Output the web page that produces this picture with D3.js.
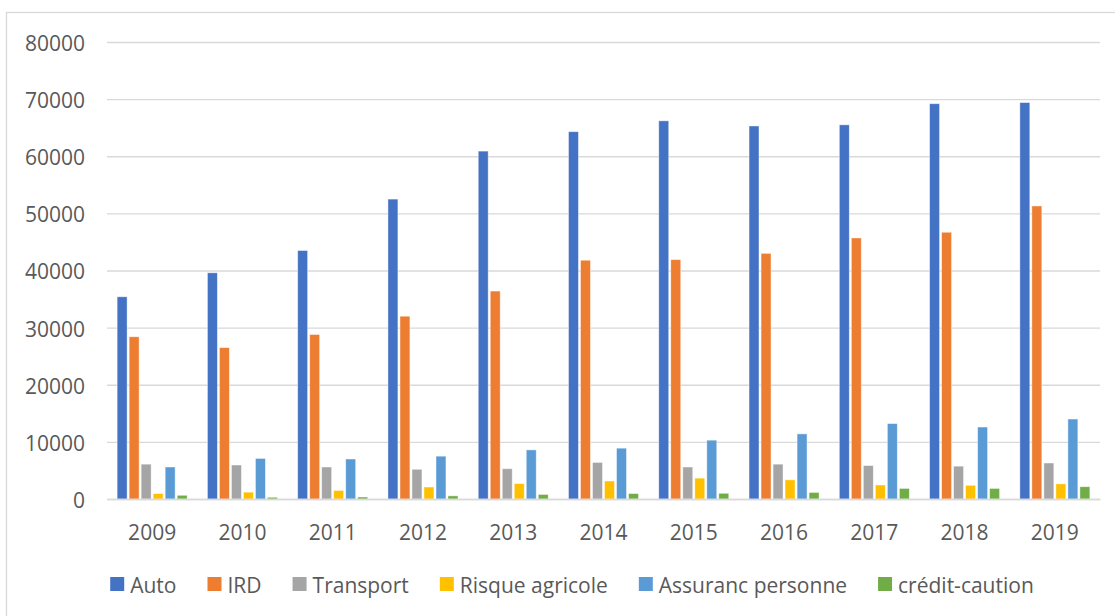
<!DOCTYPE html>
<html>
<head>
<meta charset="utf-8">
<script src="https://cdn.jsdelivr.net/npm/d3@7"></script>
<style>
  html, body { margin: 0; padding: 0; background: #fff; }
  svg { display: block; font-family: "Open Sans", "Noto Sans", sans-serif; }
</style>
</head>
<body>
<svg id="chart" width="1115" height="616"></svg>
<script>
// Years on the category axis
const years = ["2009", "2010", "2011", "2012", "2013", "2014", "2015", "2016", "2017", "2018", "2019"];

// Premiums by line of business
const auto        = [35400, 39600, 43500, 52500, 60900, 64300, 66200, 65300, 65500, 69200, 69400];
const ird         = [28400, 26500, 28800, 32000, 36400, 41800, 41900, 43000, 45700, 46700, 51300];
const transport   = [6100, 5950, 5600, 5200, 5300, 6400, 5600, 6100, 5850, 5750, 6300];
const agricole    = [950, 1200, 1500, 2100, 2700, 3150, 3650, 3350, 2450, 2400, 2650];
const personne    = [5600, 7100, 7000, 7500, 8600, 8900, 10300, 11400, 13200, 12600, 14000];
const caution     = [650, 300, 350, 550, 800, 950, 1000, 1150, 1850, 1850, 2150];

const seriesNames = ["Auto", "IRD", "Transport", "Risque agricole", "Assuranc personne", "crédit-caution"];
const seriesValues = [auto, ird, transport, agricole, personne, caution];
const seriesColors = ["#4472C4", "#ED7D31", "#A5A5A5", "#FFC000", "#5B9BD5", "#70AD47"];

const yTicks = [0, 10000, 20000, 30000, 40000, 50000, 60000, 70000, 80000];

const svg = d3.select("#chart");
const W = 1115, H = 616;
const plot = { left: 107, right: 1100, top: 42, bottom: 499 };
const fontSize = "21px";
const textColor = "#595959";

// Chart area frame
svg.append("rect")
  .attr("x", 6.5).attr("y", 12.5)
  .attr("width", W + 10).attr("height", H + 10)
  .attr("fill", "#fff")
  .attr("stroke", "#d9d9d9").attr("stroke-width", 1.3);

const x0 = d3.scaleBand()
  .domain(years)
  .range([plot.left, plot.right])
  .paddingInner(0.2245)
  .paddingOuter(0.11225);

const x1 = d3.scaleBand()
  .domain(seriesNames)
  .range([0, x0.bandwidth()])
  .paddingInner(0.17)
  .paddingOuter(0);

const y = d3.scaleLinear()
  .domain([0, 80000])
  .range([plot.bottom, plot.top]);

// Horizontal gridlines and value labels
const yAxis = d3.axisLeft(y)
  .tickValues(yTicks)
  .tickSize(-(plot.right - plot.left))
  .tickPadding(22)
  .tickFormat(d3.format("d"));

const gy = svg.append("g")
  .attr("transform", `translate(${plot.left},0)`)
  .call(yAxis);
gy.select(".domain").remove();
gy.selectAll(".tick line")
  .attr("stroke", "#d9d9d9")
  .attr("stroke-width", 1.4);
gy.selectAll(".tick text")
  .attr("fill", textColor)
  .attr("font-size", fontSize)
  .attr("font-family", "'Open Sans', sans-serif")
  .attr("dy", "0.4em");

// Bars
const rows = years.map((yr, i) => ({
  year: yr,
  values: seriesNames.map((name, k) => ({ name, value: seriesValues[k][i], color: seriesColors[k] }))
}));

const groups = svg.append("g")
  .selectAll("g")
  .data(rows)
  .join("g")
  .attr("transform", d => `translate(${x0(d.year)},0)`);

groups.selectAll("rect")
  .data(d => d.values)
  .join("rect")
  .attr("x", d => x1(d.name))
  .attr("width", x1.bandwidth())
  .attr("y", d => y(d.value))
  .attr("height", d => y(0) - y(d.value))
  .attr("fill", d => d.color)
  .attr("stroke", "#ffffff")
  .attr("stroke-opacity", 0.55)
  .attr("stroke-width", 0.8);

// Category axis
const xAxis = d3.axisBottom(x0).tickSize(0).tickPadding(26);
const gx = svg.append("g")
  .attr("transform", `translate(0,${plot.bottom})`)
  .call(xAxis);
gx.select(".domain")
  .attr("stroke", "#d9d9d9")
  .attr("stroke-width", 1.4);
gx.selectAll(".tick text")
  .attr("fill", textColor)
  .attr("font-size", fontSize)
  .attr("font-family", "'Open Sans', sans-serif");

// Legend
const legend = svg.append("g");
const items = legend.selectAll("g")
  .data(seriesNames.map((n, k) => ({ name: n, color: seriesColors[k] })))
  .join("g");

items.append("rect")
  .attr("width", 14).attr("height", 14)
  .attr("y", 577)
  .attr("fill", d => d.color);

items.append("text")
  .attr("x", 20)
  .attr("y", 592.5)
  .attr("fill", textColor)
  .attr("font-size", fontSize)
  .attr("font-family", "'Open Sans', sans-serif")
  .text(d => d.name);

let offset = 0;
const widths = [];
items.each(function () {
  const t = d3.select(this).select("text").node().getComputedTextLength();
  widths.push(20 + t);
});
const gap = 31;
const total = d3.sum(widths) + gap * (widths.length - 1);
const start = 572 - total / 2;
items.attr("transform", (d, i) => {
  const xPos = start + offset;
  offset += widths[i] + gap;
  return `translate(${xPos},0)`;
});
</script>
</body>
</html>
